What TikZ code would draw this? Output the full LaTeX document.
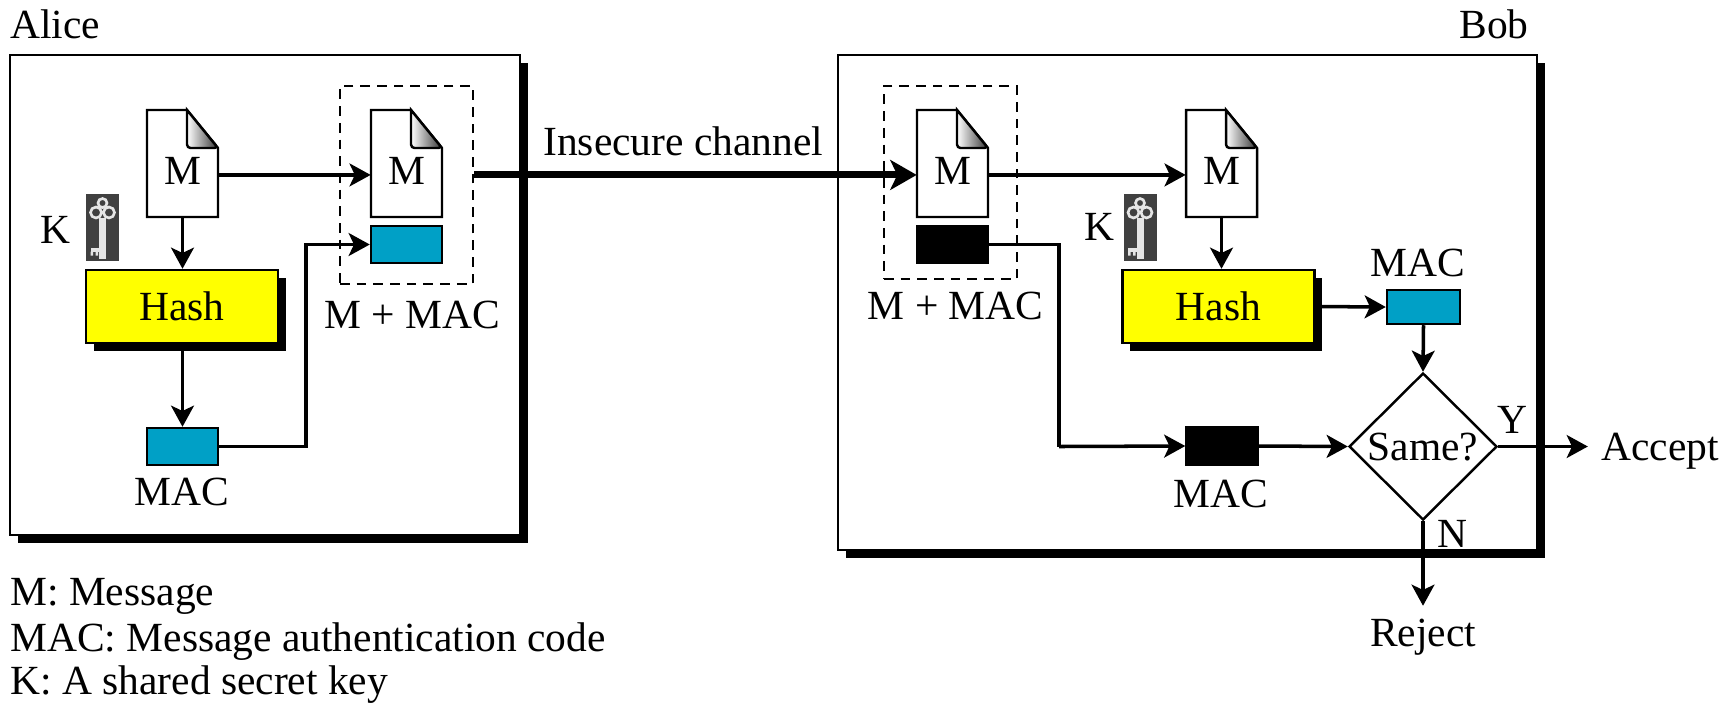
\documentclass[tikz,border=0pt]{standalone}
\usepackage{fontspec}
\setmainfont{Liberation Serif}
\usetikzlibrary{arrows.meta,shapes.geometric,shadows}

\definecolor{macblue}{RGB}{0,160,198}
\definecolor{hashyellow}{RGB}{255,255,0}

\begin{document}
\begin{tikzpicture}[
    labeltext/.style = {inner sep=0pt, font=\fontsize{23.6}{28}\selectfont, text height=15.6pt, text depth=0pt},
    party/.style     = {draw, fill=white, line width=1.4pt, inner sep=0pt,
                        drop shadow={shadow xshift=4.3pt, shadow yshift=-4.3pt, fill=black, opacity=1}},
    hashbox/.style   = {draw, fill=hashyellow, line width=1.4pt, inner sep=0pt, labeltext,
                        minimum width=3.84cm, minimum height=1.46cm,
                        drop shadow={shadow xshift=4.5pt, shadow yshift=-4.5pt, fill=black, opacity=1}},
    macbox/.style    = {draw, line width=1.4pt, inner sep=0pt, minimum width=1.42cm, minimum height=0.74cm},
    docbox/.style    = {inner sep=0pt, minimum width=1.42cm, minimum height=2.14cm},
    bundle/.style    = {draw, line width=1.4pt, dash pattern=on 5.5pt off 4pt, inner sep=0pt},
    keybox/.style    = {fill=black!75, inner sep=0pt, minimum width=0.66cm, minimum height=1.34cm},
    arrow/.style     = {line width=2pt, -{Stealth[length=12pt, width=13pt, inset=3pt]}},
    plain/.style     = {line width=2pt},
    channel/.style   = {line width=4pt, -{Stealth[length=15pt, width=17pt, inset=4pt]}},
    outcome/.style   = {arrow, shorten >=7.5pt},
    docsheet/.pic    = {
      \filldraw[fill=white, line width=1.4pt] (-0.71,1.07) -- (0.09,1.07) -- (0.71,0.31) -- (0.71,-1.07) -- (-0.71,-1.07) -- cycle;
      \shadedraw[left color=white, right color=black!80, line width=1.4pt, rounded corners=2pt]
        (0.09,1.07) -- (0.09,0.31) -- (0.71,0.31) [sharp corners] -- cycle;
    },
    keyicon/.pic     = {
      \draw[black!10, line width=1.5pt] (-0.13,0.30) circle (0.11) (0.13,0.30) circle (0.11) (0,0.49) circle (0.09);
      \fill[black!10] (-0.07,0.20) rectangle (0.07,-0.62);
      \fill[black!10] (-0.24,-0.40) rectangle (0,-0.48);
      \fill[black!10] (-0.24,-0.48) rectangle (-0.19,-0.56) (-0.14,-0.48) rectangle (-0.09,-0.56);
    }
  ]

    \useasboundingbox (0,0) rectangle (34.68,-14.1);

    %% ---- Alice and Bob ----
    \node[party, minimum width=10.2cm, minimum height=9.6cm]  (alice) at (5.30,-5.90) {};
    \node[party, minimum width=13.98cm, minimum height=9.9cm] (bob)   at (23.75,-6.05) {};
    \node[labeltext, anchor=west] (alicename) at (0.2,-0.5) {Alice};
    \node[labeltext, anchor=east] (bobname)   at (30.58,-0.5) {Bob};

    %% ---- dashed bundles ----
    \node[bundle, minimum width=2.66cm, minimum height=3.96cm] (bundleA) at (8.13,-3.70) {};
    \node[bundle, minimum width=2.66cm, minimum height=3.86cm] (bundleB) at (19.01,-3.65) {};
    \node[labeltext] (bundleAname) at (8.24,-6.30) {M + MAC};
    \node[labeltext] (bundleBname) at (19.11,-6.12) {M + MAC};

    %% ---- messages ----
    \foreach \name/\x in {docA/3.65, docB/8.13, docC/19.05, docD/24.43} {
      \pic at (\x,-3.27) {docsheet};
      \node[docbox] (\name) at (\x,-3.27) {};
      \node[labeltext] (\name letter) at (\x,-3.42) {M};
    }

    %% ---- keys ----
    \foreach \name/\x in {keyA/2.05, keyB/22.80} {
      \node[keybox] (\name) at (\x,-4.55) {};
      \pic at (\name) {keyicon};
    }
    \node[labeltext] (keyAname) at (1.11,-4.60) {K};
    \node[labeltext] (keyBname) at (21.98,-4.54) {K};

    %% ---- hash boxes ----
    \node[hashbox] (hashA) at (3.64,-6.13)  {Hash};
    \node[hashbox] (hashB) at (24.37,-6.13) {Hash};

    %% ---- MAC boxes ----
    \node[macbox, fill=macblue] (macA) at (3.65,-8.93)  {};
    \node[macbox, fill=macblue] (macB) at (8.13,-4.89)  {};
    \node[macbox, fill=black]   (macC) at (19.05,-4.89) {};
    \node[macbox, fill=black]   (macD) at (24.44,-8.92) {};
    \node[macbox, fill=macblue, minimum width=1.46cm, minimum height=0.68cm] (macE) at (28.47,-6.14) {};
    \node[labeltext] (macAname) at (3.64,-9.84)  {MAC};
    \node[labeltext] (macDname) at (24.42,-9.88) {MAC};
    \node[labeltext] (macEname) at (28.36,-5.26) {MAC};

    %% ---- comparison ----
    \node[diamond, draw, fill=white, line width=1.4pt, inner sep=0pt, aspect=1, labeltext,
          minimum width=2.96cm, minimum height=2.94cm] (same) at (28.46,-8.93) {Same?};
    \node[labeltext] (yes) at (30.24,-8.40) {Y};
    \node[labeltext] (no)  at (29.04,-10.68) {N};
    \node[labeltext, anchor=west] (accept) at (32.02,-8.93) {Accept};
    \node[labeltext] (reject) at (28.46,-12.66) {Reject};

    %% ---- connectors, Alice ----
    \coordinate (bendA) at (6.12,-4.89);
    \draw[arrow] ([yshift=-6.5pt]docA.east) -- ([yshift=-6.5pt]docB.west);
    \draw[arrow] (docA.south) -- (docA.south |- hashA.north);
    \draw[arrow] (docA.south |- hashA.south) -- (macA.north);
    \draw[arrow] (macA.east) -| (bendA) -- (macB.west);

    %% ---- insecure channel ----
    \node[labeltext, anchor=west] (channelname) at (10.86,-2.84) {Insecure channel};
    \draw[channel] ([yshift=-6.5pt]bundleA.east |- docB.east) -- ([yshift=-6.5pt]docC.west);

    %% ---- connectors, Bob ----
    \coordinate (bendB) at (21.18,-8.93);
    \draw[arrow] ([yshift=-6.5pt]docC.east) -- ([yshift=-6.5pt]docD.west);
    \draw[arrow] (docD.south) -- (docD.south |- hashB.north);
    \draw[arrow] (hashB.east) -- (macE.west);
    \draw[plain] (macC.east) -| (bendB);
    \draw[arrow] (bendB) -- (macD.west);
    \draw[arrow] (macD.east) -- (same.west);
    \draw[arrow] (macE.south) -- (same.north);
    \draw[outcome] (same.east) -- (accept.west);
    \draw[outcome] (same.south) -- (reject.north);

    %% ---- legend ----
    \node[labeltext, anchor=west] (legendM)   at (0.2,-11.84) {M: Message};
    \node[labeltext, anchor=west] (legendMAC) at (0.2,-12.76) {MAC: Message authentication code};
    \node[labeltext, anchor=west] (legendK)   at (0.2,-13.62) {K: A shared secret key};
  \end{tikzpicture}
\end{document}
